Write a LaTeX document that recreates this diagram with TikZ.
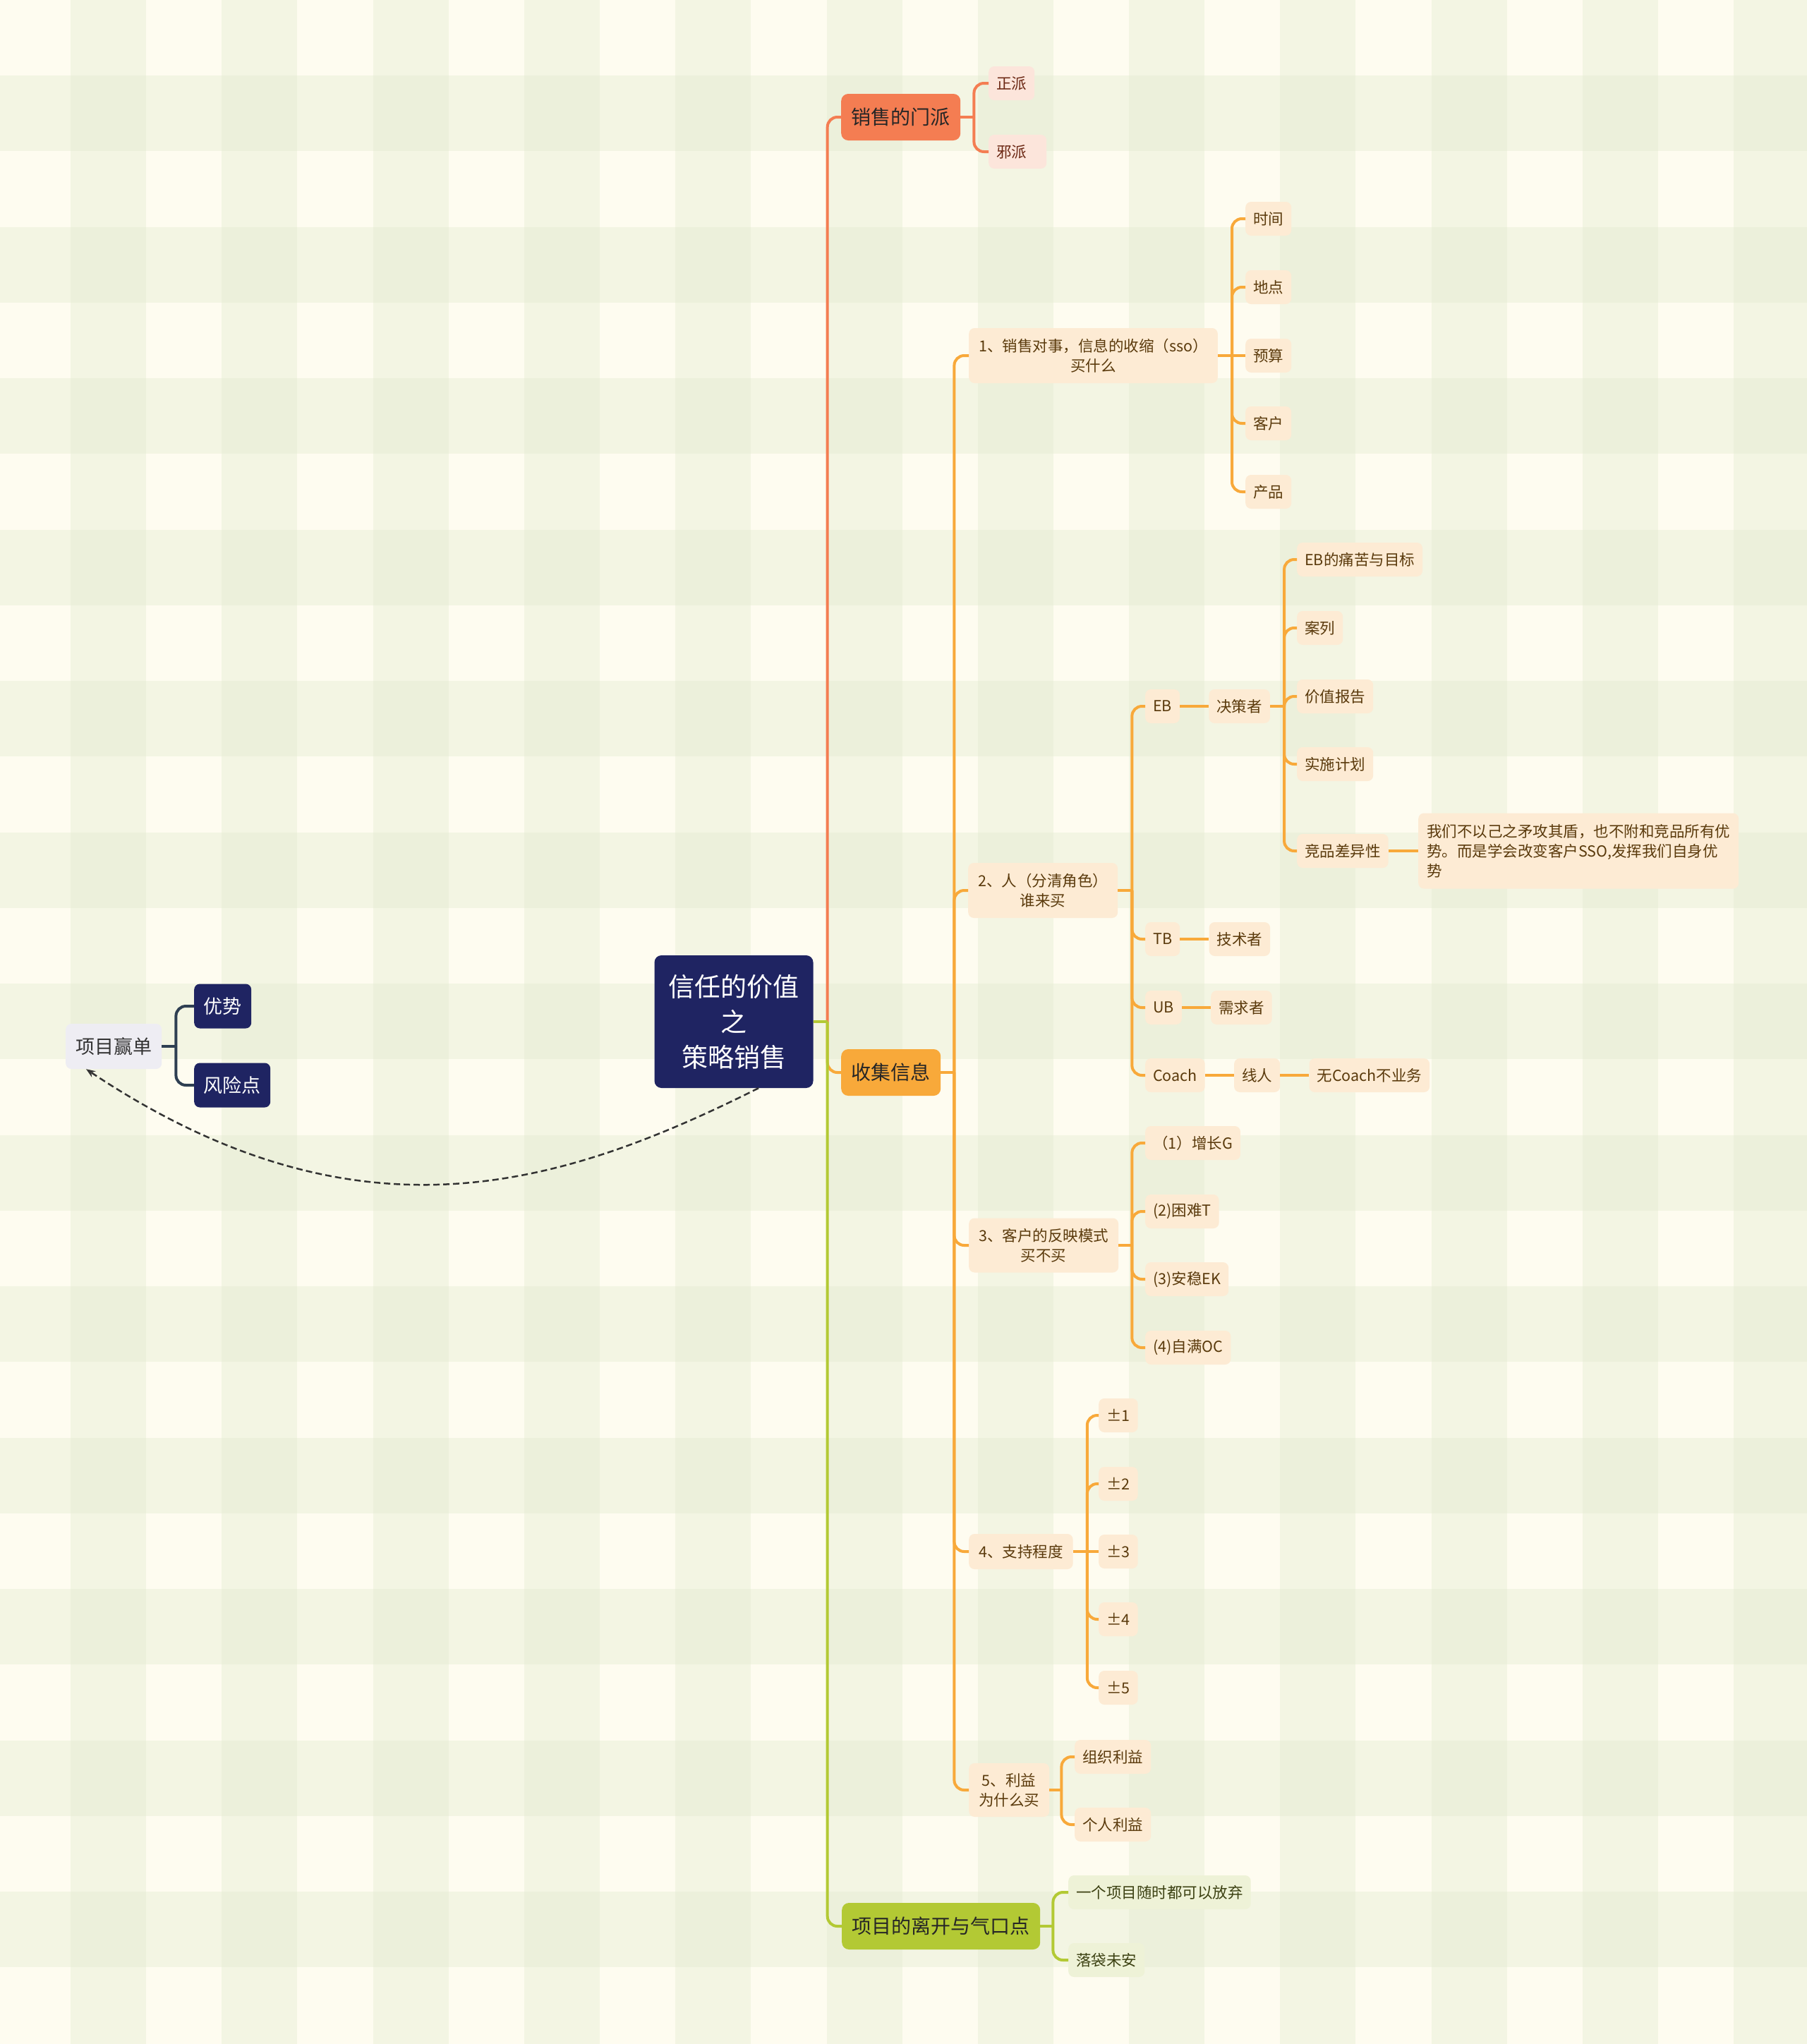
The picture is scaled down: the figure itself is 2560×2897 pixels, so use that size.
\documentclass[tikz,border=0pt]{standalone}
\usepackage{fontspec}
\newfontfamily\cjk{Noto Sans CJK SC}
\usetikzlibrary{positioning,arrows.meta}

\definecolor{bgbase}{HTML}{FEFCF0}
\definecolor{bgband}{HTML}{F3F5E3}
\definecolor{bgcross}{HTML}{ECF0DB}
\definecolor{navy}{HTML}{1F2462}
\definecolor{coral}{HTML}{F47D52}
\definecolor{amber}{HTML}{F8A93A}
\definecolor{olive}{HTML}{B3C934}
\definecolor{slate}{HTML}{2E3F52}
\definecolor{pinkbox}{HTML}{FCE5DB}
\definecolor{peachbox}{HTML}{FDEBD4}
\definecolor{limebox}{HTML}{EEF2D7}
\definecolor{greybox}{HTML}{EEEDF3}
\definecolor{browntext}{HTML}{5A3A0C}
\definecolor{redtext}{HTML}{6B2713}
\definecolor{olivetext}{HTML}{3C4112}

\begin{document}
\begin{tikzpicture}[x=1pt,y=-1pt,
  box/.style={rounded corners=8pt, inner xsep=11pt, inner ysep=0pt, minimum height=48pt,
    anchor=west, font=\cjk\fontsize{21.5}{28}\selectfont, align=center},
  leafO/.style={box, fill=peachbox, text=browntext},
  lvltwo/.style={leafO, inner xsep=14pt},
  leafP/.style={box, fill=pinkbox, text=redtext},
  leafG/.style={box, fill=limebox, text=olivetext},
  mainbox/.style={rounded corners=10pt, inner xsep=14.5pt, inner ysep=0pt, minimum height=66pt,
    anchor=west, font=\cjk\fontsize{28}{34}\selectfont, text=black!85},
  navybox/.style={rounded corners=8pt, fill=navy, text=white, inner xsep=13.5pt, inner ysep=0pt,
    minimum height=63pt, anchor=west, font=\cjk\fontsize{27}{32}\selectfont},
  conn/.style={line width=4pt, rounded corners=14pt},
  relline/.style={line width=2.5pt, black!80, dash pattern=on 9pt off 5pt,
    -{Stealth[length=13pt,width=10pt]}},
]
\useasboundingbox (0,0) rectangle (2560,2897);

% gingham background
\fill[bgbase] (0,0) rectangle (2560,2897);
\foreach \i in {0,...,11} \fill[bgband] ({100+214.3*\i},0) rectangle ++(107,2897);
\foreach \j in {0,...,12} \fill[bgband] (0,{107+214.5*\j}) rectangle ++(2560,107);
\foreach \i in {0,...,11} \foreach \j in {0,...,12}
  \fill[bgcross] ({100+214.3*\i},{107+214.5*\j}) rectangle ++(107,107);

% central node
\node[rounded corners=10pt, fill=navy, text=white, font=\cjk\fontsize{37}{50}\selectfont,
  align=center, minimum width=225pt, minimum height=188pt, inner sep=0pt] (core) at (1040,1448)
  {信任的价值\\之\\策略销售};

% main branches
\node[mainbox, fill=coral] (sect) at (1192,166) {销售的门派};
\node[mainbox, fill=amber] (coll) at (1192,1520) {收集信息};
\node[mainbox, fill=olive] (leave) at (1193,2730) {项目的离开与气口点};

% 销售的门派
\node[leafP] (zp) at (1401,118) {正派};
\node[leafP] (xp) at (1401,215) {邪派\hspace{17pt}};

% 项目的离开与气口点
\node[leafG] (g1) at (1514,2682) {一个项目随时都可以放弃};
\node[leafG] (g2) at (1514,2778) {落袋未安};

% 收集信息 level 2
\node[lvltwo, minimum height=78pt] (c1) at (1373,504) {1、销售对事，信息的收缩（sso）\\买什么};
\node[lvltwo, minimum height=78pt] (c2) at (1372,1262) {2、人（分清角色）\\谁来买};
\node[lvltwo, minimum height=77pt] (c3) at (1373,1765) {3、客户的反映模式\\买不买};
\node[lvltwo, minimum height=50pt] (c4) at (1373,2199) {4、支持程度};
\node[lvltwo, minimum height=76pt] (c5) at (1373,2537) {5、利益\\为什么买};

% c1 children
\node[leafO] (t1) at (1765,310) {时间};
\node[leafO] (t2) at (1765,407) {地点};
\node[leafO] (t3) at (1765,504) {预算};
\node[leafO] (t4) at (1765,600) {客户};
\node[leafO] (t5) at (1765,697) {产品};

% c2 children
\node[leafO] (eb) at (1623,1001) {EB};
\node[leafO, right=41pt of eb] (jcz) {决策者};
\node[leafO] (d1) at (1838,793) {EB的痛苦与目标};
\node[leafO] (d2) at (1838,890) {案列};
\node[leafO] (d3) at (1838,987) {价值报告};
\node[leafO] (d4) at (1838,1083) {实施计划};
\node[leafO] (d5) at (1838,1206) {竞品差异性};
\node[leafO, align=left, inner xsep=12pt, minimum height=107pt] (lt) at (2010,1206)
  {我们不以己之矛攻其盾，也不附和竞品所有优\\势。而是学会改变客户SSO,发挥我们自身优\\势};
\node[leafO] (tb) at (1623,1331) {TB};
\node[leafO, right=41pt of tb] (jsz) {技术者};
\node[leafO] (ub) at (1623,1428) {UB};
\node[leafO, right=41pt of ub] (xqz) {需求者};
\node[leafO] (coach) at (1623,1524) {Coach};
\node[leafO, right=41pt of coach] (xr) {线人};
\node[leafO, right=41pt of xr] (wc) {无Coach不业务};

% c3 children
\node[leafO] (r1) at (1623,1620) {（1）增长G};
\node[leafO] (r2) at (1623,1717) {(2)困难T};
\node[leafO] (r3) at (1623,1813) {(3)安稳EK};
\node[leafO] (r4) at (1623,1910) {(4)自满OC};

% c4 children
\node[leafO] (p1) at (1557,2006) {±1};
\node[leafO] (p2) at (1557,2103) {±2};
\node[leafO] (p3) at (1557,2199) {±3};
\node[leafO] (p4) at (1557,2295) {±4};
\node[leafO] (p5) at (1557,2392) {±5};

% c5 children
\node[leafO] (i1) at (1523,2490) {组织利益};
\node[leafO] (i2) at (1523,2586) {个人利益};

% left floating topic
\node[rounded corners=8pt, fill=greybox, text=black!80, font=\cjk\fontsize{27}{32}\selectfont,
  inner xsep=14pt, inner ysep=0pt, minimum height=64pt, anchor=west] (win) at (93,1483) {项目赢单};
\node[navybox] (ys) at (275,1426) {优势};
\node[navybox] (fx) at (275,1538) {风险点};

% ---------- connectors ----------
\coordinate (tj) at ([xshift=20pt]core.east);
\draw[conn, amber] (tj) |- (coll.west);
\draw[conn, coral] (tj) |- (sect.west);
\draw[conn, olive] (core.east) -- (tj);
\draw[conn, olive] (tj) |- (leave.west);

\draw[conn, coral] (sect.east) -- ++(19,0) coordinate (sj);
\draw[conn, coral] (sj) |- (zp.west);
\draw[conn, coral] (sj) |- (xp.west);

\draw[conn, olive] (leave.east) -- ++(18,0) coordinate (lj);
\draw[conn, olive] (lj) |- (g1.west);
\draw[conn, olive] (lj) |- (g2.west);

\draw[conn, amber] (coll.east) -- ++(19,0) coordinate (cj);
\foreach \n in {c1,c2,c3,c4,c5} \draw[conn, amber] (cj) |- (\n.west);

\draw[conn, amber] (c1.east) -- ++(20,0) coordinate (c1j);
\foreach \n in {t1,t2,t4,t5} \draw[conn, amber] (c1j) |- (\n.west);
\draw[conn, amber] (c1j) -- (t3.west);

\draw[conn, amber] (c2.east) -- ++(20,0) coordinate (c2j);
\foreach \n in {eb,tb,ub,coach} \draw[conn, amber] (c2j) |- (\n.west);
\draw[conn, amber] (eb) -- (jcz);
\draw[conn, amber] (tb) -- (jsz);
\draw[conn, amber] (ub) -- (xqz);
\draw[conn, amber] (coach) -- (xr);
\draw[conn, amber] (xr) -- (wc);
\draw[conn, amber] (jcz.east) -- ++(20,0) coordinate (jj);
\foreach \n in {d1,d2,d3,d4,d5} \draw[conn, amber] (jj) |- (\n.west);
\draw[conn, amber] (d5) -- (lt);

\draw[conn, amber] (c3.east) -- ++(19,0) coordinate (c3j);
\foreach \n in {r1,r2,r3,r4} \draw[conn, amber] (c3j) |- (\n.west);

\draw[conn, amber] (c4.east) -- ++(20,0) coordinate (c4j);
\foreach \n in {p1,p2,p4,p5} \draw[conn, amber] (c4j) |- (\n.west);
\draw[conn, amber] (c4j) -- (p3.west);

\draw[conn, amber] (c5.east) -- ++(17,0) coordinate (c5j);
\foreach \n in {i1,i2} \draw[conn, amber] (c5j) |- (\n.west);

\draw[conn, slate] (win.east) -- ++(20,0) coordinate (wj);
\draw[conn, slate] (wj) |- (ys.west);
\draw[conn, slate] (wj) |- (fx.west);

% dashed relationship
\coordinate (ds) at ([xshift=35pt]core.south);
\coordinate (de) at ([xshift=29pt]win.south west);
\draw[relline] (ds) .. controls (790,1685) and (504,1770) .. (de);
\end{tikzpicture}
\end{document}
